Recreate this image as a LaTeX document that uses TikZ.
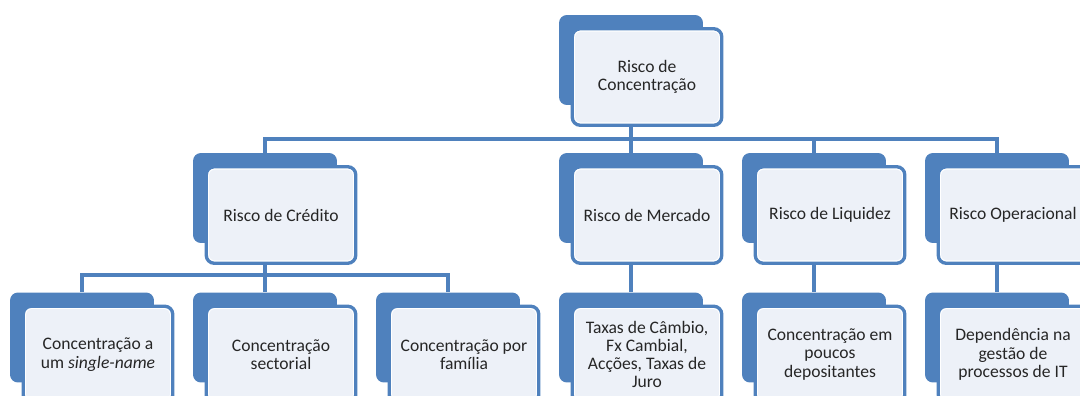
\documentclass[tikz,border=0pt]{standalone}
\usepackage{fontspec}
\setmainfont{Carlito}
\usetikzlibrary{backgrounds}
\definecolor{boxblue}{HTML}{4F81BD}
\definecolor{boxfill}{HTML}{EDF1F8}
\begin{document}
\begin{tikzpicture}[x=0.02cm,y=-0.02cm,
  back/.style={fill=boxblue,rounded corners=4.5pt,minimum width=2.88cm,minimum height=1.8cm,inner sep=0pt},
  front/.style={draw=boxblue,line width=1.9pt,fill=white,rounded corners=4.5pt,
    minimum width=2.99cm,minimum height=1.93cm,inner sep=2pt,align=center,text=black!85,
    font=\fontsize{10}{10.4}\selectfont,
    path picture={\fill[boxfill,rounded corners=3pt]
      ([shift={(1.6pt,-1.6pt)}]path picture bounding box.north west) rectangle
      ([shift={(-1.6pt,1.6pt)}]path picture bounding box.south east);}},
  link/.style={draw=boxblue,line width=2.3pt}]
  \useasboundingbox (0,0) rectangle (1080,396);
  \clip (0,0) rectangle (1080,396);
  % top
  \node[back] (conc) at (631,60) {};
  \node[front] (conc-f) at ([shift={(16,17)}]conc) {Risco de\\Concentração};
  % second row
  \node[back] (cred) at (265,198) {};
  \node[front] (cred-f) at ([shift={(16,17)}]cred) {Risco de Crédito};
  \node[back] (merc) at (631,198) {};
  \node[front] (merc-f) at ([shift={(16,17)}]merc) {Risco de Mercado};
  \node[back] (liq) at (814,198) {};
  \node[front] (liq-f) at ([shift={(16,17)}]liq) {Risco de Liquidez};
  \node[back] (oper) at (997,198) {};
  \node[front] (oper-f) at ([shift={(16,17)}]oper) {Risco Operacional};
  % third row
  \node[back] (single) at (82,337.5) {};
  \node[front] (single-f) at ([shift={(16,17)}]single) {Concentração a\\um \textit{single-name}};
  \node[back] (sect) at (265,337.5) {};
  \node[front] (sect-f) at ([shift={(16,17)}]sect) {Concentração\\sectorial};
  \node[back] (fam) at (448,337.5) {};
  \node[front] (fam-f) at ([shift={(16,17)}]fam) {Concentração por\\família};
  \node[back] (taxas) at (631,337.5) {};
  \node[front] (taxas-f) at ([shift={(16,17)}]taxas) {Taxas de Câmbio,\\Fx Cambial,\\Acções, Taxas de\\Juro};
  \node[back] (depos) at (814,337.5) {};
  \node[front] (depos-f) at ([shift={(16,17)}]depos) {Concentração em\\poucos\\depositantes};
  \node[back] (proc) at (997,337.5) {};
  \node[front] (proc-f) at ([shift={(16,17)}]proc) {Dependência na\\gestão de\\processos de IT};
  \begin{scope}[on background layer]
    \draw[link] (conc) -- ++(0,79) -| (cred);
    \draw[link] (conc) -- ++(0,79) -| (merc);
    \draw[link] (conc) -- ++(0,79) -| (liq);
    \draw[link] (conc) -- ++(0,79) -| (oper);
    \draw[link] (cred) -- ++(0,77) -| (single);
    \draw[link] (cred) -- (sect);
    \draw[link] (cred) -- ++(0,77) -| (fam);
    \draw[link] (merc) -- (taxas);
    \draw[link] (liq) -- (depos);
    \draw[link] (oper) -- (proc);
  \end{scope}
\end{tikzpicture}
\end{document}
